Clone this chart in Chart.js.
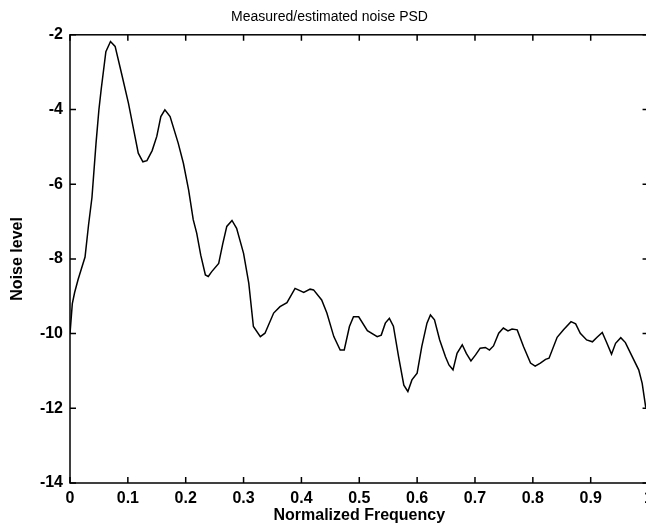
<!DOCTYPE html>
<html>
<head>
<meta charset="utf-8">
<script src="https://cdn.jsdelivr.net/npm/chart.js@4/dist/chart.umd.min.js"></script>
<style>
  html, body { margin: 0; padding: 0; background: #fff; overflow: hidden; }
  #wrap { width: 659px; height: 527px; }
</style>
</head>
<body>
<div id="wrap"><canvas id="psdChart"></canvas></div>
<script>
// normalized frequency (0..1) and noise level
const freq = [
  0.000, 0.004, 0.008, 0.014, 0.020, 0.026, 0.032, 0.038, 0.045, 0.050,
  0.054, 0.062, 0.070, 0.078, 0.089, 0.101, 0.110, 0.118, 0.126, 0.133,
  0.142, 0.150, 0.157, 0.164, 0.173, 0.187, 0.196, 0.205, 0.213, 0.219,
  0.226, 0.234, 0.239, 0.245, 0.257, 0.264, 0.271, 0.280, 0.288, 0.300,
  0.309, 0.317, 0.329, 0.337, 0.352, 0.363, 0.375, 0.389, 0.404, 0.415,
  0.421, 0.435, 0.444, 0.456, 0.467, 0.474, 0.483, 0.490, 0.499, 0.514,
  0.531, 0.538, 0.545, 0.552, 0.559, 0.568, 0.577, 0.584, 0.591, 0.600,
  0.608, 0.617, 0.623, 0.630, 0.639, 0.649, 0.655, 0.662, 0.669, 0.678,
  0.685, 0.693, 0.701, 0.709, 0.718, 0.725, 0.732, 0.741, 0.749, 0.757,
  0.764, 0.773, 0.784, 0.796, 0.804, 0.813, 0.822, 0.828, 0.842, 0.853,
  0.866, 0.874, 0.882, 0.893, 0.903, 0.911, 0.920, 0.927, 0.936, 0.943,
  0.952, 0.960, 0.969, 0.983, 0.989, 0.995, 1.000
];
const noiseLevel = [
  -10.0, -9.2, -8.9, -8.55, -8.25, -7.95, -7.1, -6.35, -4.9, -4.0,
  -3.45, -2.45, -2.18, -2.31, -3.03, -3.83, -4.54, -5.17, -5.40, -5.37,
  -5.1, -4.72, -4.19, -4.01, -4.19, -4.9, -5.44, -6.15, -6.95, -7.31,
  -7.9, -8.43, -8.47, -8.34, -8.12, -7.6, -7.13, -6.97, -7.18, -7.85,
  -8.65, -9.81, -10.08, -9.99, -9.45, -9.28, -9.17, -8.79, -8.90, -8.81,
  -8.83, -9.10, -9.45, -10.08, -10.44, -10.44, -9.81, -9.55, -9.55, -9.92,
  -10.08, -10.04, -9.72, -9.59, -9.80, -10.62, -11.38, -11.55, -11.24, -11.06,
  -10.35, -9.72, -9.50, -9.63, -10.17, -10.62, -10.84, -10.97, -10.53, -10.30,
  -10.53, -10.73, -10.57, -10.39, -10.37, -10.44, -10.33, -9.99, -9.85, -9.93,
  -9.88, -9.90, -10.35, -10.79, -10.87, -10.79, -10.69, -10.66, -10.10, -9.90,
  -9.68, -9.74, -9.99, -10.17, -10.22, -10.10, -9.97, -10.22, -10.55, -10.26,
  -10.11, -10.24, -10.53, -10.97, -11.33, -11.96, -12.05
];
const xTicks = [0, 0.1, 0.2, 0.3, 0.4, 0.5, 0.6, 0.7, 0.8, 0.9, 1];
const yTicks = [-14, -12, -10, -8, -6, -4, -2];

const font = "'Liberation Sans', Arial, Helvetica, sans-serif";

// matlab style box with inward tick marks
const boxTicks = {
  id: 'boxTicks',
  afterDraw(chart) {
    const { ctx, chartArea: a, scales } = chart;
    const len = 6;
    ctx.save();
    ctx.strokeStyle = '#000';
    ctx.lineWidth = 1.5;
    ctx.strokeRect(a.left, a.top, a.right - a.left, a.bottom - a.top);
    ctx.beginPath();
    xTicks.forEach(v => {
      const px = scales.x.getPixelForValue(v);
      ctx.moveTo(px, a.bottom); ctx.lineTo(px, a.bottom - len);
      ctx.moveTo(px, a.top); ctx.lineTo(px, a.top + len);
    });
    yTicks.forEach(v => {
      const py = scales.y.getPixelForValue(v);
      ctx.moveTo(a.left, py); ctx.lineTo(a.left + len, py);
      ctx.moveTo(a.right, py); ctx.lineTo(a.right - len, py);
    });
    ctx.stroke();
    ctx.restore();
  }
};

const ctx = document.getElementById('psdChart').getContext('2d');
new Chart(ctx, {
  type: 'line',
  data: {
    datasets: [{
      label: 'Noise PSD',
      data: freq.map((f, i) => ({ x: f, y: noiseLevel[i] })),
      borderColor: '#000',
      borderWidth: 1.5,
      pointRadius: 0,
      tension: 0,
      fill: false
    }]
  },
  options: {
    responsive: true,
    maintainAspectRatio: false,
    animation: false,
    layout: { padding: 0 },
    scales: {
      x: {
        type: 'linear',
        min: 0,
        max: 1,
        afterFit(scale) { scale.height = 44; },
        afterBuildTicks(scale) { scale.ticks = xTicks.map(v => ({ value: v })); },
        ticks: {
          color: '#000',
          padding: 6,
          maxRotation: 0,
          font: { family: font, size: 16, weight: 'bold' },
          callback: v => String(v)
        },
        grid: { display: false, drawTicks: false },
        border: { display: false },
        title: {
          display: true,
          text: 'Normalized Frequency',
          color: '#000',
          padding: { top: 0, bottom: 2 },
          font: { family: font, size: 16, weight: 'bold' }
        }
      },
      y: {
        min: -14,
        max: -2,
        afterFit(scale) { scale.width = 70; },
        afterBuildTicks(scale) { scale.ticks = yTicks.map(v => ({ value: v })); },
        ticks: {
          color: '#000',
          padding: 7,
          font: { family: font, size: 16, weight: 'bold' }
        },
        grid: { display: false, drawTicks: false },
        border: { display: false },
        title: {
          display: true,
          text: 'Noise level',
          color: '#000',
          padding: { top: 8, bottom: 0 },
          font: { family: font, size: 16, weight: 'bold' }
        }
      }
    },
    plugins: {
      legend: { display: false },
      tooltip: { enabled: false },
      title: {
        display: true,
        text: 'Measured/estimated noise PSD',
        color: '#000',
        padding: { top: 9, bottom: 9 },
        font: { family: font, size: 14, weight: 'normal' }
      }
    }
  },
  plugins: [boxTicks]
});
</script>
</body>
</html>
